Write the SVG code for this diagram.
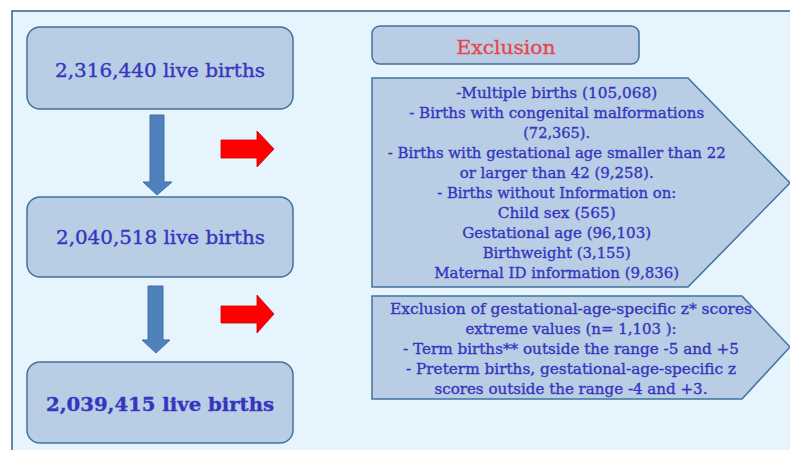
<svg xmlns="http://www.w3.org/2000/svg" width="790" height="450" viewBox="0 0 790 450">
<style>
.panel{fill:#e6f4fd;stroke:#3f6183;stroke-width:1.5}
.box{fill:#b9cde5;stroke:#41719c;stroke-width:1.5}
.t{font-family:"DejaVu Serif","Liberation Serif",serif;fill:#3535bf;stroke:#3535bf;stroke-width:0.35;text-anchor:middle}
.big{font-size:19px}
.sm{font-size:15px}
.down{fill:#4f81bd;stroke:#41719c;stroke-width:1}
.red{fill:#ff0000;stroke:#c00000;stroke-width:0.8}
</style>
<rect x="0" y="0" width="790" height="450" fill="#ffffff"/>
<rect class="panel" x="12" y="11" width="790" height="450"/>

<g id="connectors">
  <path class="down" d="M150,115 H164 V182 H172 L157,195 L143,182 H150 Z"/>
  <path class="down" d="M148,286 H163 V340 H170 L156,353 L142,340 H148 Z"/>
  <path class="red" d="M221,140 H257 V131 L274,149 L257,167 V158 H221 Z"/>
  <path class="red" d="M221,306 H257 V295 L274,314 L257,333 V323 H221 Z"/>
</g>

<g id="n1">
  <rect class="box" x="27" y="27" width="266" height="82" rx="13"/>
  <text class="t big" x="160" y="77" textLength="210" lengthAdjust="spacingAndGlyphs">2,316,440 live births</text>
</g>
<g id="n2">
  <rect class="box" x="27" y="197" width="266" height="80" rx="13"/>
  <text class="t big" x="160.5" y="244" textLength="209" lengthAdjust="spacingAndGlyphs">2,040,518 live births</text>
</g>
<g id="n3">
  <rect class="box" x="27" y="362" width="266" height="81" rx="13"/>
  <text class="t big" x="160" y="411" font-weight="bold" textLength="228" lengthAdjust="spacingAndGlyphs">2,039,415  live births</text>
</g>
<g id="exclusion">
  <rect class="box" x="372" y="26" width="267" height="38" rx="8"/>
  <text class="t big" x="506" y="54" style="fill:#e8474a;stroke:#e8474a" textLength="99" lengthAdjust="spacingAndGlyphs">Exclusion</text>
</g>
<g id="excl1">
  <path class="box" d="M372,78 H688 L790,183 L688,287 H372 Z"/>
  <g class="t sm">
    <text x="556.7" y="98" textLength="201" lengthAdjust="spacingAndGlyphs">-Multiple births (105,068)</text>
    <text x="556.7" y="118" textLength="295" lengthAdjust="spacingAndGlyphs">- Births with congenital malformations</text>
    <text x="556.7" y="138" textLength="67" lengthAdjust="spacingAndGlyphs">(72,365).</text>
    <text x="556.7" y="158" textLength="338" lengthAdjust="spacingAndGlyphs">- Births with gestational age smaller than 22</text>
    <text x="556.7" y="178" textLength="194" lengthAdjust="spacingAndGlyphs">or larger than 42 (9,258).</text>
    <text x="556.7" y="198" textLength="239" lengthAdjust="spacingAndGlyphs">- Births without Information on:</text>
    <text x="556.7" y="218" textLength="118" lengthAdjust="spacingAndGlyphs">Child sex (565)</text>
    <text x="556.7" y="238" textLength="189" lengthAdjust="spacingAndGlyphs">Gestational age (96,103)</text>
    <text x="556.7" y="258" textLength="148" lengthAdjust="spacingAndGlyphs">Birthweight (3,155)</text>
    <text x="556.7" y="278" textLength="245" lengthAdjust="spacingAndGlyphs">Maternal ID information (9,836)</text>
  </g>
</g>
<g id="excl2">
  <path class="box" d="M372,296 H742 L790,347 L742,399 H372 Z"/>
  <g class="t sm">
    <text x="571" y="314" textLength="362" lengthAdjust="spacingAndGlyphs">Exclusion of gestational-age-specific z* scores</text>
    <text x="571" y="334" textLength="211" lengthAdjust="spacingAndGlyphs">extreme values (n= 1,103 ):</text>
    <text x="571" y="354" textLength="336" lengthAdjust="spacingAndGlyphs">- Term births** outside the range -5 and +5</text>
    <text x="571" y="374" textLength="330" lengthAdjust="spacingAndGlyphs">- Preterm births, gestational-age-specific z</text>
    <text x="571" y="394" textLength="273" lengthAdjust="spacingAndGlyphs">scores outside the range -4 and +3.</text>
  </g>
</g>
</svg>
